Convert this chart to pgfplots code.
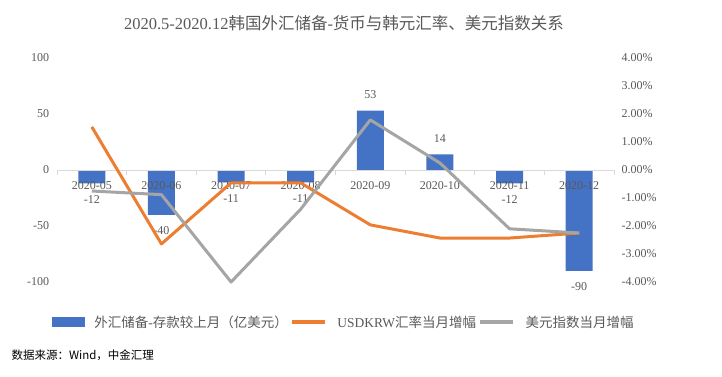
\documentclass[border=0pt]{standalone}
\usepackage{pgfplots}
\pgfplotsset{compat=1.18}
\usepackage{fontspec}
\setmainfont{Liberation Serif}
\newfontfamily\cjk{Noto Sans CJK SC}
\definecolor{barblue}{HTML}{4472C4}
\definecolor{lorange}{HTML}{ED7D31}
\definecolor{lgray}{HTML}{A5A5A5}
\definecolor{txt}{HTML}{595959}
\definecolor{axl}{HTML}{D9D9D9}
\begin{document}
\begin{tikzpicture}
\path (0pt,0pt) rectangle (722pt,376pt);
\node[font=\fontsize{16.5}{18}\selectfont, text=txt] at (344pt,353pt) {2020.5-2020.12{\cjk 韩国外汇储备}-{\cjk 货币与韩元汇率、美元指数关系}};
\node[anchor=west, font=\cjk\fontsize{11.5}{13}\selectfont] at (8pt,21pt) {数据来源：Wind，中金汇理};
\begin{axis}[
  at={(57pt,94pt)}, anchor=south west,
  width=557pt, height=224pt, scale only axis,
  xmin=-0.5, xmax=7.5, ymin=-100, ymax=100,
  ytick={-100,-50,0,50,100},
  axis on top,
  axis y line*=left, y axis line style={draw=none}, ytick style={draw=none},
  axis x line*=middle, x axis line style={draw=axl, line width=0.8pt, -},
  xtick={0,...,7},
  xticklabels={2020-05,2020-06,2020-07,2020-08,2020-09,2020-10,2020-11,2020-12},
  xticklabel style={yshift=-3.5pt},
  major x tick style={draw=none},
  minor xtick={-0.5,0.5,...,7.5},
  minor x tick style={draw=axl, line width=0.8pt},
  minor tick length=5pt, tick align=outside,
  ticklabel style={font=\fontsize{12}{14}\selectfont, text=txt},
  /pgf/number format/assume math mode=true,
  ybar, bar width=27pt,
  nodes near coords,
  every node near coord/.append style={font=\fontsize{12}{14}\selectfont, text=txt, inner ysep=12pt},
  clip=false,
]
\addplot[fill=barblue, draw=none] coordinates {(0,-12) (1,-40) (2,-11) (3,-11) (4,53) (5,14) (6,-12) (7,-90)};
\end{axis}
\begin{axis}[
  at={(57pt,94pt)}, anchor=south west,
  width=557pt, height=224pt, scale only axis,
  xmin=-0.5, xmax=7.5, ymin=-4, ymax=4,
  ytick={-4,-3,...,4},
  axis y line*=right, y axis line style={draw=none}, ytick style={draw=none},
  axis x line=none,
  yticklabel={\pgfmathprintnumber[fixed,fixed zerofill,precision=2]{\tick}\%},
  yticklabel style={xshift=4pt},
  ticklabel style={font=\fontsize{12}{14}\selectfont, text=txt},
  /pgf/number format/assume math mode=true,
  legend columns=3,
  legend style={at={(0.515,-0.179)}, anchor=center, draw=none, fill=none,
    font=\fontsize{13.5}{15}\selectfont, text=txt,
    nodes={inner sep=2.5pt},
    /tikz/every odd column/.append style={column sep=8pt}},
  clip=false,
]
\addlegendimage{legend image code/.code={\fill[barblue] (0pt,-4.5pt) rectangle (32pt,4.5pt);}}
\addlegendentry{{\cjk 外汇储备}-{\cjk 存款较上月（亿美元）}}
\addplot[lorange, line width=3pt, line join=round,
  legend image code/.code={\draw[lorange, line width=3.5pt] (0pt,0pt) -- (33pt,0pt);}]
  coordinates {(0,1.54) (1,-2.64) (2,-0.46) (3,-0.46) (4,-1.96) (5,-2.43) (6,-2.43) (7,-2.25)};
\addlegendentry{USDKRW{\cjk 汇率当月增幅}}
\addplot[lgray, line width=3pt, line join=round,
  legend image code/.code={\draw[lgray, line width=3.5pt] (0pt,0pt) -- (33pt,0pt);}]
  coordinates {(0,-0.75) (1,-0.88) (2,-4.0) (3,-1.4) (4,1.79) (5,0.25) (6,-2.1) (7,-2.25)};
\addlegendentry{{\cjk 美元指数当月增幅}}
\end{axis}
\end{tikzpicture}
\end{document}
